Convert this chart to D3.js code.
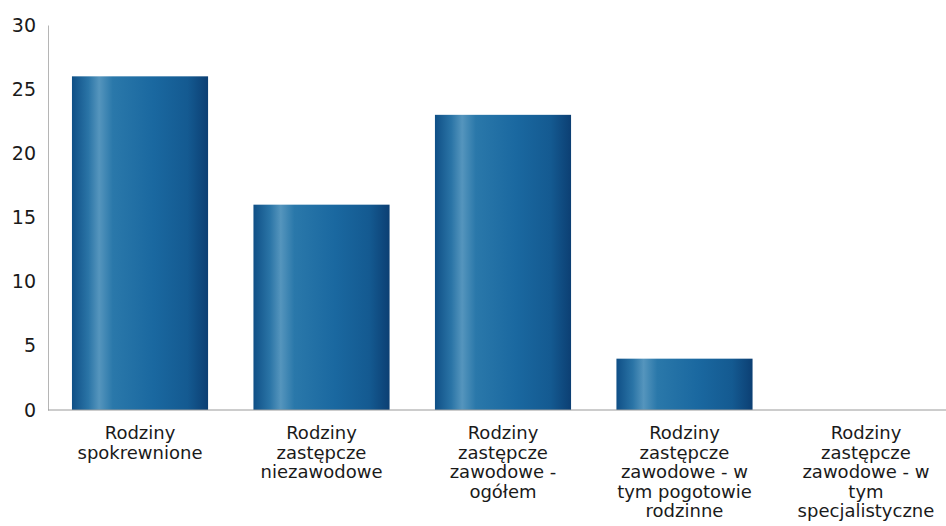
<!DOCTYPE html>
<html>
<head>
<meta charset="utf-8">
<script src="https://cdn.jsdelivr.net/npm/d3@7"></script>
<style>
  body { margin: 0; background: #fff; }
  text { font-family: "DejaVu Sans", sans-serif; fill: #1a1a1a; }
</style>
</head>
<body>
<div id="chart"></div>
<script>
// categories, each label split into lines as in the picture
var categories = [
    ["Rodziny", "spokrewnione"],
    ["Rodziny", "zastępcze", "niezawodowe"],
    ["Rodziny", "zastępcze", "zawodowe -", "ogółem"],
    ["Rodziny", "zastępcze", "zawodowe - w", "tym pogotowie", "rodzinne"],
    ["Rodziny", "zastępcze", "zawodowe - w", "tym", "specjalistyczne"]
];
var values = [26, 16, 23, 4, 0];
var yTicks = [0, 5, 10, 15, 20, 25, 30];

var width = 946, height = 526;
var margin = {top: 25, right: 0, bottom: 116, left: 48};
var innerW = width - margin.left - margin.right;
var innerH = height - margin.top - margin.bottom;

var svg = d3.select("#chart").append("svg")
    .attr("width", width)
    .attr("height", height);

// cylinder-ish shading of the bars
var defs = svg.append("defs");
var grad = defs.append("linearGradient")
    .attr("id", "barGrad")
    .attr("x1", "0%").attr("x2", "100%")
    .attr("y1", "0%").attr("y2", "0%");
grad.append("stop").attr("offset", "0%").attr("stop-color", "#0f4f86");
grad.append("stop").attr("offset", "12%").attr("stop-color", "#2a74a6");
grad.append("stop").attr("offset", "20%").attr("stop-color", "#5595bd");
grad.append("stop").attr("offset", "30%").attr("stop-color", "#2a78aa");
grad.append("stop").attr("offset", "60%").attr("stop-color", "#1a68a0");
grad.append("stop").attr("offset", "85%").attr("stop-color", "#145a91");
grad.append("stop").attr("offset", "100%").attr("stop-color", "#0c3f73");

var g = svg.append("g")
    .attr("transform", "translate(" + margin.left + "," + margin.top + ")");

// the bands run slightly past the right edge, as in the original
var x = d3.scaleBand()
    .domain(d3.range(categories.length))
    .range([0, 910])
    .paddingInner(0.25)
    .paddingOuter(0.132);

var y = d3.scaleLinear()
    .domain([0, 30])
    .range([innerH, 0]);

// bars
g.selectAll(".bar")
    .data(values)
    .enter()
    .append("rect")
    .attr("class", "bar")
    .attr("x", (d, i) => x(i))
    .attr("y", d => y(d))
    .attr("width", x.bandwidth())
    .attr("height", d => innerH - y(d))
    .attr("fill", "url(#barGrad)");

// y axis
var yAxis = g.append("g")
    .call(d3.axisLeft(y).tickValues(yTicks).tickSize(0).tickPadding(12));
yAxis.select(".domain").attr("stroke", "#b5b5b5");
yAxis.selectAll("text")
    .style("font-size", "19px")
    .attr("fill", "#1a1a1a");

// baseline
g.append("line")
    .attr("x1", 0)
    .attr("x2", innerW)
    .attr("y1", y(0))
    .attr("y2", y(0))
    .attr("stroke", "#9a9a9a");

// category labels
var labels = g.selectAll(".cat")
    .data(categories)
    .enter()
    .append("text")
    .attr("class", "cat")
    .attr("text-anchor", "middle")
    .attr("x", (d, i) => x(i) + x.bandwidth() / 2)
    .attr("y", innerH + 29)
    .style("font-size", "18px");

labels.selectAll("tspan")
    .data(d => d)
    .enter()
    .append("tspan")
    .attr("x", function() { return d3.select(this.parentNode).attr("x"); })
    .attr("dy", (d, i) => i == 0 ? 0 : 19.5)
    .text(d => d);
</script>
</body>
</html>
